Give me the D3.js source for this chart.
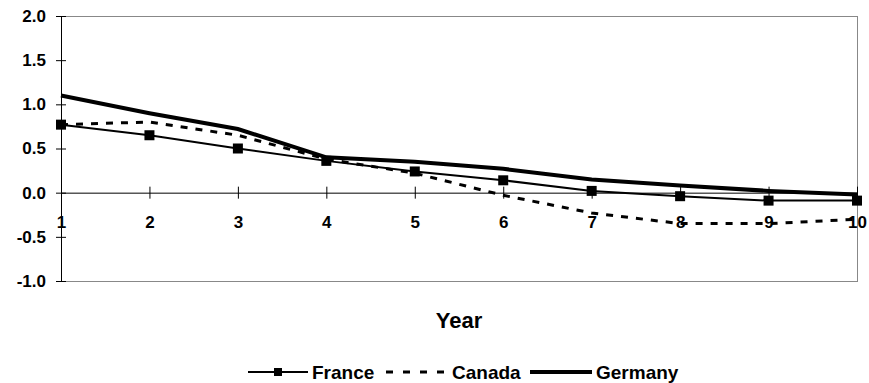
<!DOCTYPE html>
<html>
<head>
<meta charset="utf-8">
<style>
body { margin: 0; background: #fff; }
text { font-family: "Liberation Sans", Arial, sans-serif; font-weight: bold; fill: #000; }
</style>
</head>
<body>
<svg width="869" height="383"></svg>
<script src="https://d3js.org/d3.v7.min.js"></script>
<script>
var years = [1, 2, 3, 4, 5, 6, 7, 8, 9, 10];
var france = [0.77, 0.65, 0.50, 0.36, 0.24, 0.14, 0.02, -0.04, -0.09, -0.09];
var canada = [0.77, 0.80, 0.65, 0.38, 0.22, -0.03, -0.23, -0.35, -0.35, -0.30];
var germany = [1.10, 0.90, 0.72, 0.40, 0.35, 0.27, 0.15, 0.08, 0.02, -0.02];
var yTicks = [-1.0, -0.5, 0.0, 0.5, 1.0, 1.5, 2.0];

var svg = d3.select("svg");
var plotL = 61, plotR = 857, plotT = 16, plotB = 281;

var x = d3.scalePoint().domain(years).range([plotL, plotR]);
var y = d3.scaleLinear().domain([-1, 2]).range([plotB, plotT]);

// plot area border
svg.append("rect")
  .attr("x", plotL + 0.5).attr("y", plotT + 0.5)
  .attr("width", plotR - plotL).attr("height", plotB - plotT)
  .attr("fill", "none").attr("stroke", "#888").attr("stroke-width", 1);

// y axis
var yAxis = svg.append("g")
  .attr("transform", "translate(" + plotL + ",0)")
  .call(d3.axisLeft(y).tickValues(yTicks)
    .tickFormat(function(d) { return d.toFixed(1); })
    .tickSize(5).tickPadding(10));
yAxis.select(".domain").attr("stroke", "#000");
yAxis.selectAll(".tick line").attr("x2", 5).attr("x1", -5).attr("stroke", "#000");
yAxis.selectAll("text").style("font-size", "17px").style("font-family", "Liberation Sans, Arial, sans-serif").style("font-weight", "bold");

// x axis at zero
var xAxis = svg.append("g")
  .attr("transform", "translate(0," + y(0) + ")")
  .call(d3.axisBottom(x).tickSize(6).tickPadding(17));
xAxis.select(".domain").attr("stroke", "#000").attr("d", "M" + plotL + ",0.5H" + plotR);
xAxis.selectAll(".tick line").attr("y1", -6).attr("y2", 6).attr("stroke", "#000");
xAxis.selectAll("text").style("font-size", "17px").style("font-family", "Liberation Sans, Arial, sans-serif").style("font-weight", "bold");

var line = d3.line().x(function(d, i) { return x(years[i]); }).y(function(d) { return y(d); });

svg.append("path").datum(germany)
  .attr("d", line).attr("fill", "none").attr("stroke", "#000").attr("stroke-width", 4);
svg.append("path").datum(canada)
  .attr("d", line).attr("fill", "none").attr("stroke", "#000").attr("stroke-width", 3)
  .attr("stroke-dasharray", "7,8");
svg.append("path").datum(france)
  .attr("d", line).attr("fill", "none").attr("stroke", "#000").attr("stroke-width", 2);

svg.selectAll("rect.mk").data(france).enter().append("rect")
  .attr("class", "mk")
  .attr("x", function(d, i) { return x(years[i]) - 5; })
  .attr("y", function(d) { return y(d) - 5; })
  .attr("width", 10).attr("height", 10).attr("fill", "#000");

// axis title
svg.append("text").attr("x", 459).attr("y", 328).attr("text-anchor", "middle")
  .style("font-size", "22px").text("Year");

// legend
var lg = svg.append("g").attr("transform", "translate(0,372)");
lg.append("line").attr("x1", 248).attr("x2", 308).attr("y1", 0).attr("y2", 0)
  .attr("stroke", "#000").attr("stroke-width", 2);
lg.append("rect").attr("x", 274).attr("y", -4).attr("width", 8).attr("height", 8).attr("fill", "#000");
lg.append("text").attr("x", 312).attr("y", 7).style("font-size", "19px").text("France");
lg.append("line").attr("x1", 386).attr("x2", 449).attr("y1", 0).attr("y2", 0)
  .attr("stroke", "#000").attr("stroke-width", 3).attr("stroke-dasharray", "7,10");
lg.append("text").attr("x", 452).attr("y", 7).style("font-size", "19px").text("Canada");
lg.append("line").attr("x1", 530).attr("x2", 592).attr("y1", 0).attr("y2", 0)
  .attr("stroke", "#000").attr("stroke-width", 4);
lg.append("text").attr("x", 596).attr("y", 7).style("font-size", "19px").text("Germany");
</script>
</body>
</html>
